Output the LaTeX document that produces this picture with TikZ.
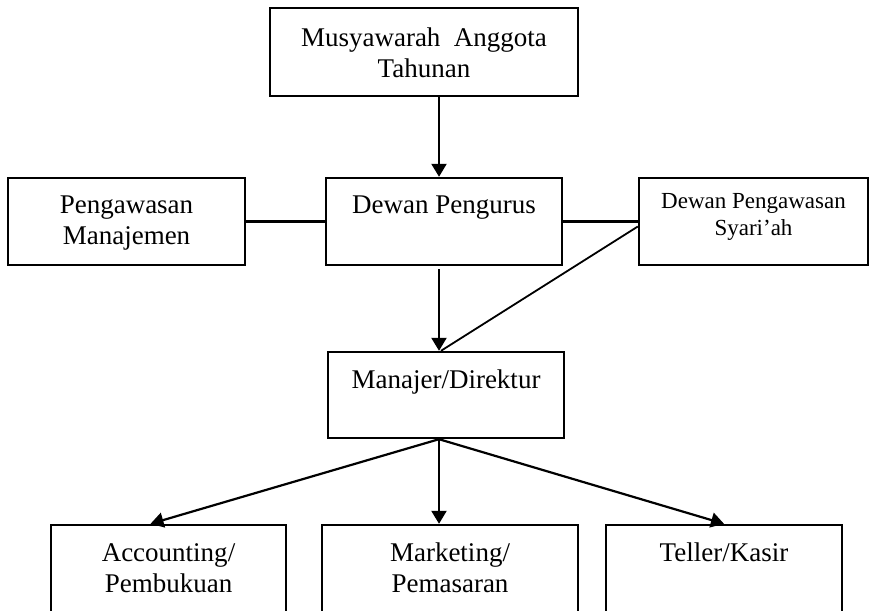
\documentclass[tikz,border=0pt]{standalone}
\usepackage{fontspec}
\setmainfont{Liberation Serif}
\usetikzlibrary{arrows.meta}

\begin{document}
\begin{tikzpicture}[x=0.5pt, y=-0.5pt,
    box/.style={draw, line width=1.2pt, minimum height=43.5pt, inner sep=0pt},
    txt/.style={anchor=north, inner sep=0pt, yshift=-9.5pt, align=center,
      font=\fontsize{13.5}{15.5}\selectfont},
    arr/.style={-{Triangle[length=6.5pt,width=7.5pt]}, line width=1.1pt},
    link/.style={line width=1.1pt}]
  \useasboundingbox (0,0) rectangle (871,610);

  % Top levels
  \node[box, minimum width=154pt, minimum height=44pt,
    label={[txt, yshift=-1pt]north:Musyawarah\ \ Anggota\\Tahunan}] (mat) at (424,52) {};
  \node[box, minimum width=118.5pt,
    label={[txt]north:Pengawasan\\Manajemen}] (pm) at (126.5,221.5) {};
  \node[box, minimum width=118pt,
    label={[txt]north:Dewan Pengurus}] (dp) at (444,221.5) {};
  \node[box, minimum width=114.5pt,
    label={[txt, yshift=1.5pt, font=\fontsize{11.5}{13.5}\selectfont]north:Dewan Pengawasan\\Syari’ah}] (dps) at (753.5,221.5) {};
  \node[box, minimum width=118pt, minimum height=43pt,
    label={[txt]north:Manajer/Direktur}] (mgr) at (446,395) {};

  % Bottom row (cut by the page edge)
  \node[box, minimum width=117.5pt, minimum height=45pt,
    label={[txt]north:Accounting/\\Pembukuan}] (acc) at (168.5,570) {};
  \node[box, minimum width=128pt, minimum height=45pt,
    label={[txt]north:Marketing/\\Pemasaran}] (mkt) at (450,570) {};
  \node[box, minimum width=118pt, minimum height=45pt,
    label={[txt]north:Teller/Kasir}] (tel) at (724,570) {};

  % Connectors
  \coordinate (spine) at (439,0);
  \draw[arr] (mat.south -| spine) -- (dp.north -| spine);
  \draw[link] (pm.east) -- (dp.west);
  \draw[link] (dp.east) -- (dps.west);
  \draw[arr] ([yshift=-1.5pt]dp.south -| spine) -- (mgr.north -| spine);
  \draw[line width=0.9pt] ([yshift=-2.5pt]dps.west) -- ([xshift=1pt]mgr.north -| spine);
  \draw[arr] (mgr.south -| spine) -- ([xshift=-9pt]acc.north);
  \draw[arr] (mgr.south -| spine) -- (mkt.north -| spine);
  \draw[arr] (mgr.south -| spine) -- (tel.north);
\end{tikzpicture}
\end{document}
